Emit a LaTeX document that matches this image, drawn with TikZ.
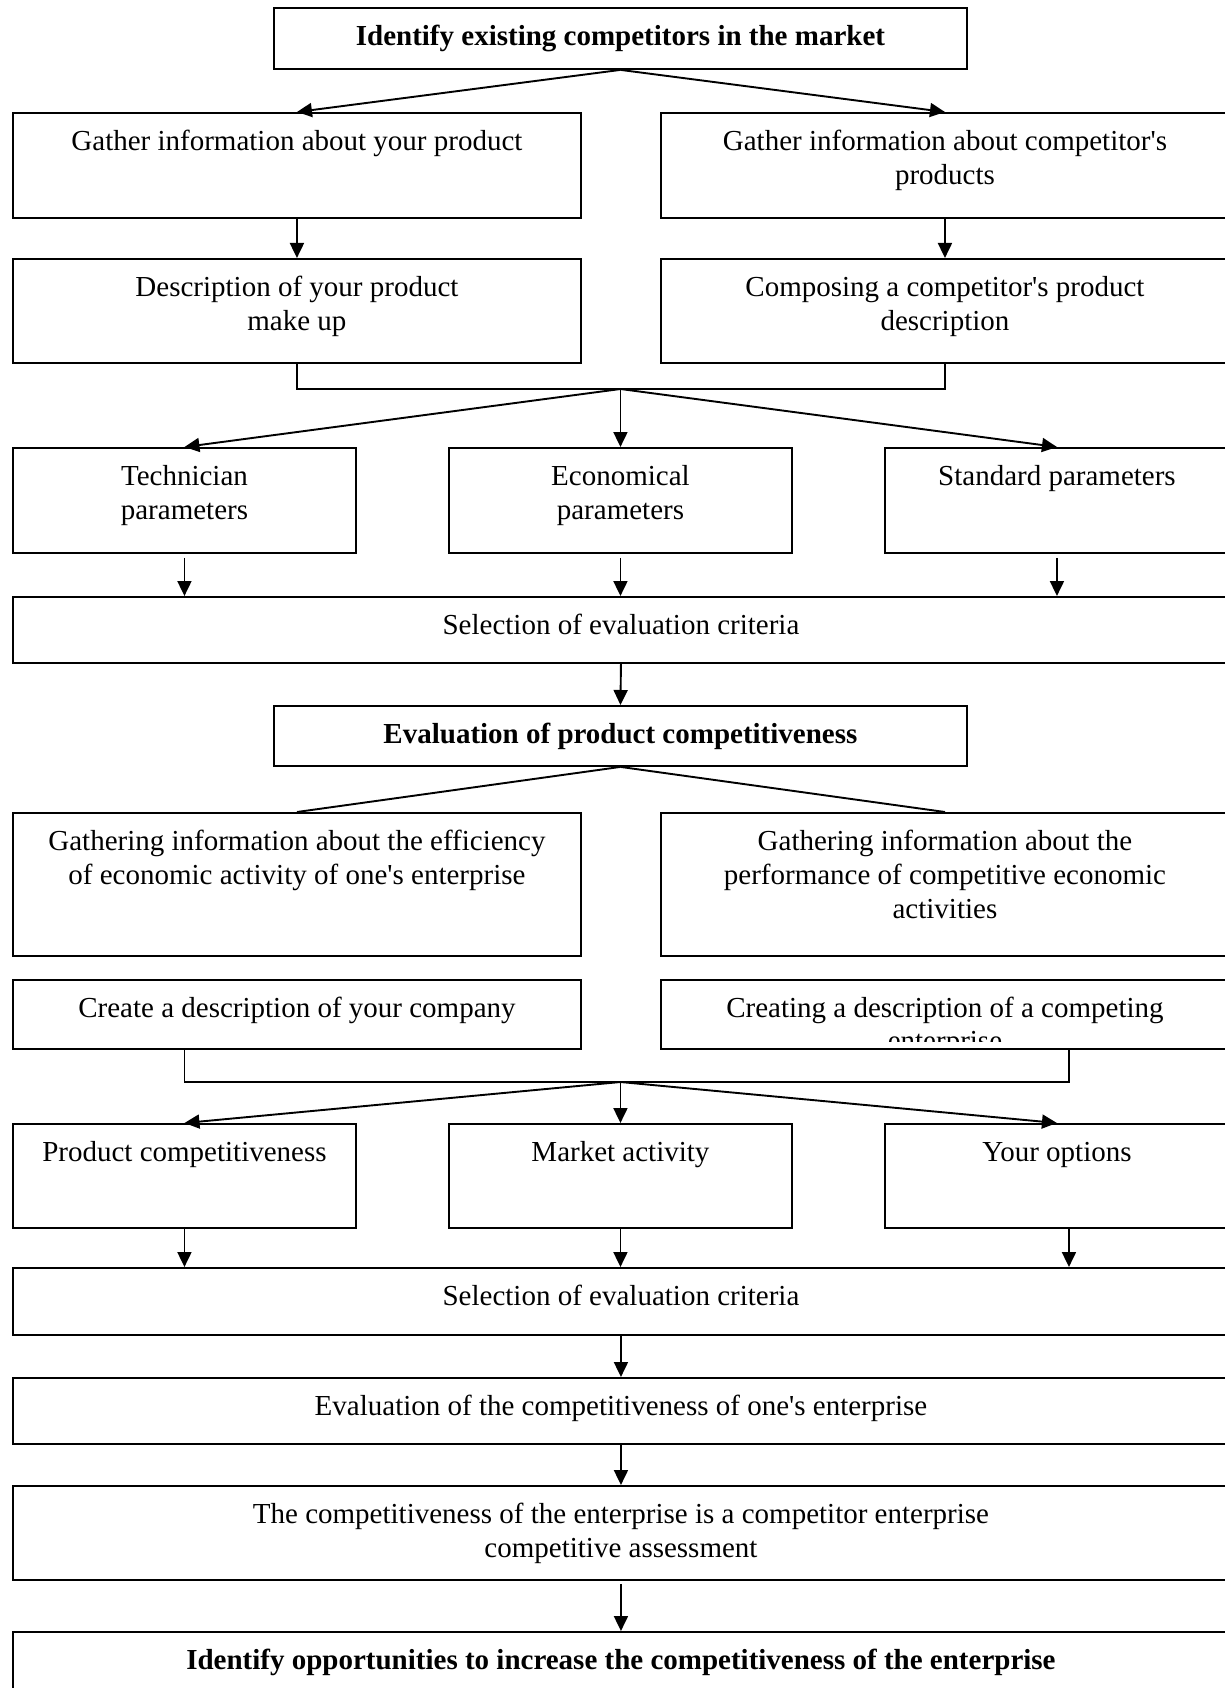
\documentclass[tikz,border=0pt]{standalone}
\usepackage{fontspec}
\setmainfont{Liberation Serif}[Ligatures=TeXOff]
\usetikzlibrary{arrows.meta,calc}

\begin{document}
\begin{tikzpicture}[x=1pt, y=-1pt, line width=1.9pt,
    arr/.style={-{Triangle[length=15pt,width=14pt]}},
    box/.style={draw, anchor=north west, inner sep=0pt, align=center,
      text height=38pt, font=\fontsize{29}{34}\selectfont},
    two/.style={text height=72pt},
    three/.style={text height=106pt},
    wide/.style={box, minimum width=1216},
    half/.style={box, minimum width=568},
    third/.style={box, minimum width=343},
    mid/.style={box, minimum width=693}]
    % 画面の大きさ
    \useasboundingbox (0,0) rectangle (1225,1688);
    \clip (0,0) rectangle (1225,1688);

    % 製品の競争力
    \node[mid, text depth=23, font=\fontsize{29}{34}\selectfont\bfseries] (top) at (273,7)
      {Identify existing competitors in the market};
    \node[half, text depth=67] (gyp) at (12,112) {Gather information about your product};
    \node[half, two, text depth=33] (gcp) at (660,112) {Gather information about competitor's\\products};
    \node[half, two, text depth=32] (dyp) at (12,258) {Description of your product\\make up};
    \node[half, two, text depth=32] (dcp) at (660,258) {Composing a competitor's product\\description};
    \node[third, two, text depth=33] (tec) at (12,447) {Technician\\parameters};
    \node[third, two, text depth=33] (eco) at (448,447) {Economical\\parameters};
    \node[third, minimum width=344, text depth=67] (std) at (884,447) {Standard parameters};
    \node[wide, text depth=28] (sel) at (12,596) {Selection of evaluation criteria};
    \node[mid, text depth=22, font=\fontsize{29}{34}\selectfont\bfseries] (epc) at (273,705)
      {Evaluation of product competitiveness};

    % 企業の競争力
    \node[half, two, text depth=71] (gie) at (12,812)
      {Gathering information about the efficiency\\of economic activity of one's enterprise};
    \node[half, three, text depth=37] (gic) at (660,812)
      {Gathering information about the\\performance of competitive economic\\activities};
    \node[half, text depth=31] (cyc) at (12,979) {Create a description of your company};
    \node[half, text depth=31] (cce) at (660,979) {};
    \begin{scope}
      \clip (cce.north west) rectangle ($(cce.south east)+(0,-8)$);
      \node[half, draw=none, text height=71, text depth=0] (ccet) at (660,979)
        {Creating a description of a competing\\[-1pt]enterprise};
    \end{scope}
    \node[third, text depth=66] (prc) at (12,1123) {Product competitiveness};
    \node[third, text depth=66] (mac) at (448,1123) {Market activity};
    \node[third, minimum width=344, text depth=66] (opt) at (884,1123) {Your options};
    \node[wide, text depth=29] (crt) at (12,1267) {Selection of evaluation criteria};
    \node[wide, text depth=28] (eve) at (12,1377) {Evaluation of the competitiveness of one's enterprise};
    \node[wide, two, text depth=22] (cpe) at (12,1485)
      {The competitiveness of the enterprise is a competitor enterprise\\competitive assessment};
    \node[wide, text depth=42, font=\fontsize{29}{34}\selectfont\bfseries] (idf) at (12,1631)
      {Identify opportunities to increase the competitiveness of the enterprise};

    % 上半分の矢印
    \draw[arr] (top.south) -- (gyp.north);
    \draw[arr] (top.south) -- (gcp.north);
    \draw[arr] (gyp.south) -- (dyp.north);
    \draw[arr] (gcp.south) -- (dcp.north);
    \coordinate (hubA) at ($(eco.north)+(0,-58)$);
    \draw (dyp.south) |- (hubA) -| (dcp.south);
    \foreach \nd in {tec,eco,std}
      \draw[arr] (hubA) -- (\nd.north);
    \foreach \nd in {tec,eco,std}
      \draw[arr] ([yshift=-4pt]\nd.south) -- (\nd.south |- sel.north);
    \draw[arr] (sel.south) -- (epc.north);
    \draw (epc.south) -- (gie.north);
    \draw (epc.south) -- (gic.north);

    % 下半分の矢印
    \coordinate (cycL) at (cyc.south -| prc.north);
    \coordinate (cceR) at ($(cce.south -| opt.north)+(12,0)$);
    \coordinate (hubB) at ($(mac.north)+(0,-41)$);
    \draw (cycL) |- (hubB) -| (cceR);
    \foreach \nd in {prc,mac,opt}
      \draw[arr] (hubB) -- (\nd.north);
    \coordinate (optR) at ($(opt.south)+(12,0)$);
    \draw[arr] (prc.south) -- (prc.south |- crt.north);
    \draw[arr] (mac.south) -- (mac.south |- crt.north);
    \draw[arr] (optR) -- (optR |- crt.north);
    \draw[arr] (crt.south) -- (eve.north);
    \draw[arr] (eve.south) -- (cpe.north);
    \draw[arr] ([yshift=-3pt]cpe.south) -- (idf.north);
  \end{tikzpicture}
\end{document}
